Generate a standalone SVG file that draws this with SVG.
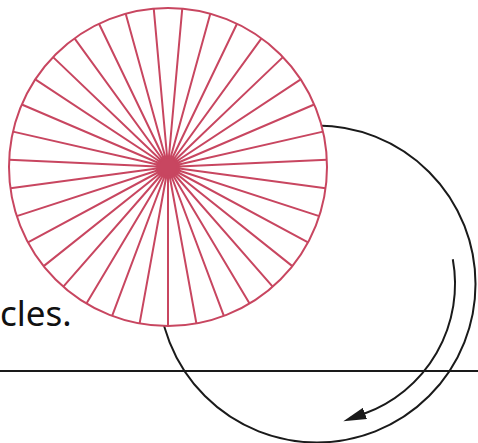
<svg xmlns="http://www.w3.org/2000/svg" width="478" height="443" viewBox="0 0 478 443">
  <style>
    .ink { fill: none; stroke: #1a1a1a; stroke-width: 2; }
    .wheel { fill: #ffffff; stroke: #c84660; stroke-width: 2; }
    .spokes { fill: none; stroke: #c84660; stroke-width: 2; }
    .label { font-family: "Noto Sans", "Open Sans", sans-serif; font-size: 35px; fill: #111111; }
  </style>
  <defs>
    <marker id="arrow" markerUnits="userSpaceOnUse" markerWidth="24" markerHeight="12" viewBox="0 0 24 12" refX="1" refY="6" orient="auto">
      <path d="M0,0 L23,6 L0,12 z" fill="#1a1a1a"/>
    </marker>
  </defs>
  <rect width="478" height="443" fill="#ffffff"/>
  <g id="text-label">
    <text class="label" x="0" y="326">cles.</text>
  </g>
  <g id="connectors">
    <line class="ink" x1="0" y1="371" x2="478" y2="371"/>
    <circle class="ink" cx="317" cy="284" r="158.5"/>
    <path class="ink" d="M452.8,259.3 A138,138 0 0 1 364,413.8" marker-end="url(#arrow)"/>
  </g>
  <g id="wheel">
    <circle class="wheel" cx="168" cy="167" r="159"/>
    <path class="spokes" d="M168,167 L168,326 M168,167 L139.61,323.44 M168,167 L112.13,315.86 M168,167 L86.45,303.50 M168,167 L63.34,286.70 M168,167 L43.69,266.13 M168,167 L27.98,242.35 M168,167 L16.78,216.13 M168,167 L10.44,188.34 M168,167 L9.16,159.87 M168,167 L12.99,131.62 M168,167 L21.80,104.51 M168,167 L35.28,79.44 M168,167 L53.08,57.12 M168,167 L74.54,38.37 M168,167 L99.01,23.75 M168,167 L125.70,13.73 M168,167 L153.75,8.64 M168,167 L182.25,8.64 M168,167 L210.30,13.73 M168,167 L236.99,23.75 M168,167 L261.46,38.37 M168,167 L282.92,57.12 M168,167 L300.72,79.44 M168,167 L314.20,104.51 M168,167 L323.01,131.62 M168,167 L326.84,159.87 M168,167 L325.56,188.34 M168,167 L319.22,216.13 M168,167 L308.02,242.35 M168,167 L292.31,266.13 M168,167 L272.66,286.70 M168,167 L249.55,303.50 M168,167 L223.87,315.86 M168,167 L196.39,323.44"/>
    <circle cx="168" cy="167" r="9" fill="#c84660"/>
  </g>
</svg>
